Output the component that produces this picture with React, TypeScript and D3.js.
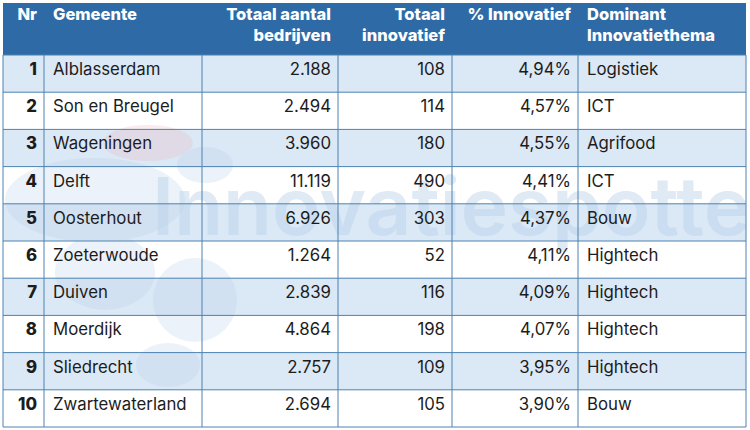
import React from "react";
import * as d3 from "d3";

const nr = [1, 2, 3, 4, 5, 6, 7, 8, 9, 10];
const gemeente = ["Alblasserdam", "Son en Breugel", "Wageningen", "Delft", "Oosterhout", "Zoeterwoude", "Duiven", "Moerdijk", "Sliedrecht", "Zwartewaterland"];
const totaalBedrijven = ["2.188", "2.494", "3.960", "11.119", "6.926", "1.264", "2.839", "4.864", "2.757", "2.694"];
const totaalInnovatief = [108, 114, 180, 490, 303, 52, 116, 198, 109, 105];
const pctInnovatief = ["4,94%", "4,57%", "4,55%", "4,41%", "4,37%", "4,11%", "4,09%", "4,07%", "3,95%", "3,90%"];
const thema = ["Logistiek", "ICT", "Agrifood", "ICT", "Bouw", "Hightech", "Hightech", "Hightech", "Hightech", "Bouw"];
const headers = [["Nr"], ["Gemeente"], ["Totaal aantal", "bedrijven"], ["Totaal", "innovatief"], ["% Innovatief"], ["Dominant", "Innovatiethema"]];

const colEdges = [3, 44, 202, 338, 452, 578, 746];
const aligns = ["end", "start", "end", "end", "end", "start"];

export default function App() {
  const W = 750, H = 430;
  const top = 3, headerBottom = 55, bottom = 427;
  const y = d3.scaleBand<number>().domain(d3.range(nr.length)).range([headerBottom, bottom]);
  const font = "Inter, 'Noto Sans', sans-serif";
  const rows = nr.map((n, i) => [String(n), gemeente[i], totaalBedrijven[i], String(totaalInnovatief[i]), pctInnovatief[i], thema[i]]);
  const tx = (c: number) => aligns[c] === "end" ? colEdges[c + 1] - 7 : colEdges[c] + 9;
  const border = "#4d82b0";
  return (
    <svg width={W} height={H} style={{ position: "absolute", left: 0, top: 0, background: "#fff" }}>
      <defs>
        <clipPath id="tbl"><rect x={colEdges[0]} y={headerBottom} width={colEdges[6] - colEdges[0]} height={bottom - headerBottom} /></clipPath>
      </defs>
      <rect x={colEdges[0]} y={top} width={colEdges[6] - colEdges[0]} height={headerBottom - top} fill="#2e6ba6" />
      {rows.map((_, i) => (
        <rect key={"r" + i} x={colEdges[0]} y={y(i)} width={colEdges[6] - colEdges[0]} height={y.bandwidth()} fill={i % 2 === 0 ? "#dbe8f5" : "#ffffff"} />
      ))}
      {/* watermark */}
      <g clipPath="url(#tbl)">
        <g opacity={0.28}>
          <ellipse cx={95} cy={200} rx={90} ry={42} fill="#b9d1ea" />
          <ellipse cx={148} cy={143} rx={45} ry={18} fill="#f0b8c4" />
          <ellipse cx={205} cy={165} rx={28} ry={18} fill="#b9d1ea" />
          <ellipse cx={105} cy={272} rx={50} ry={38} fill="#b9d1ea" />
          <ellipse cx={195} cy={300} rx={42} ry={42} fill="#b9d1ea" />
          <ellipse cx={168} cy={365} rx={32} ry={22} fill="#b9d1ea" />
        </g>
        <text x={152} y={235} opacity={0.45} fontFamily={font} fontSize={80} fontWeight={600} letterSpacing={0} fill="#b9d1ea">Innovatiespotter</text>
      </g>
      {headers.map((lines, c) => lines.map((t, k) => (
        <text key={"h" + c + k} x={tx(c)} y={20 + k * 21} textAnchor={aligns[c]} fontFamily={font} fontSize={16.5} fontWeight={800} fill="#ffffff">{t}</text>
      )))}
      {rows.map((r, i) => r.map((t, c) => (
        <text key={"c" + i + c} x={tx(c)} y={(y(i) as number) + 20} textAnchor={aligns[c]} fontFamily={font} fontSize={16.8} fontWeight={c === 0 ? 800 : 400} fill="#1c1c1c">{t}</text>
      )))}
      {rows.map((_, i) => (
        <line key={"hl" + i} x1={colEdges[0]} x2={colEdges[6]} y1={(y(i) as number) + y.bandwidth()} y2={(y(i) as number) + y.bandwidth()} stroke={border} strokeWidth={1} />
      ))}
      {colEdges.map((x, c) => (
        <line key={"vl" + c} x1={x} x2={x} y1={headerBottom} y2={bottom} stroke={border} strokeWidth={1} />
      ))}
      <line x1={colEdges[0]} x2={colEdges[6]} y1={headerBottom} y2={headerBottom} stroke={border} strokeWidth={1} />
    </svg>
  );
}
